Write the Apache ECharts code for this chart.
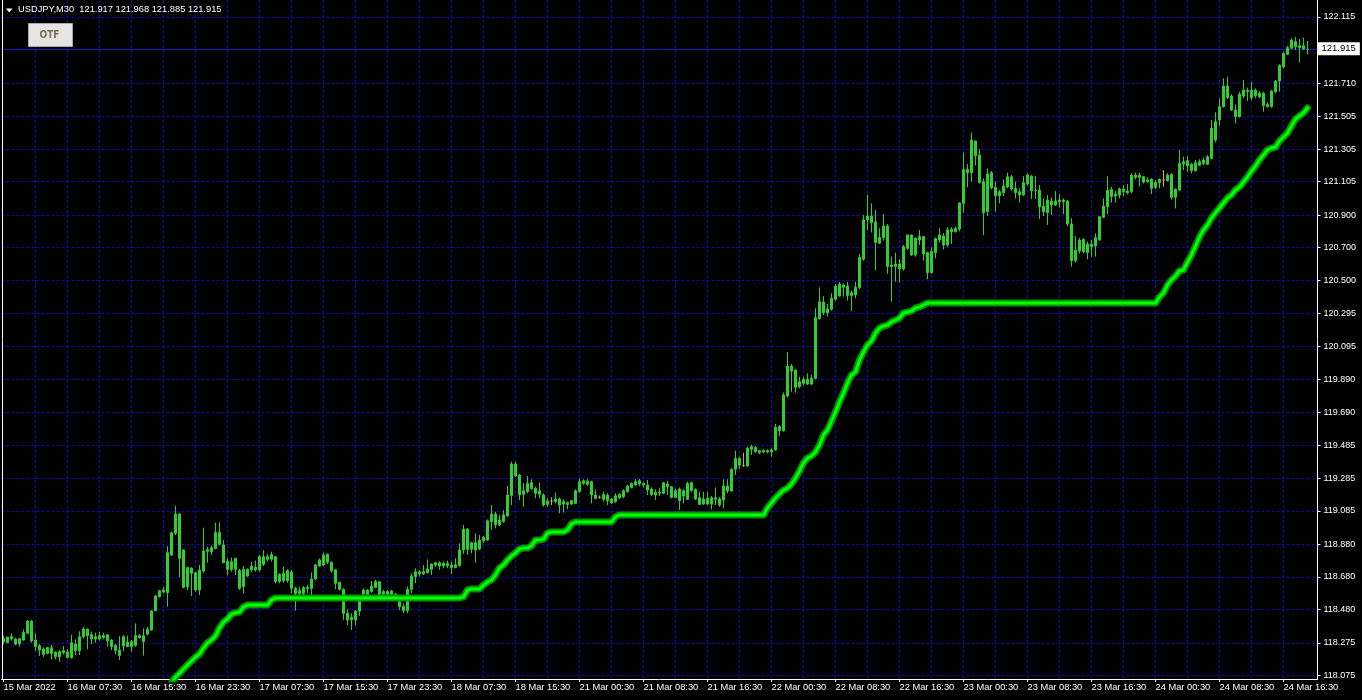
<!DOCTYPE html>
<html>
<head>
<meta charset="utf-8">
<script src="https://cdn.jsdelivr.net/npm/echarts@6/dist/echarts.min.js"></script>
<style>html,body{margin:0;padding:0;background:#000;}#c{width:1362px;height:700px;}</style>
</head>
<body>
<div id="c"></div>
<script>
// ---------- DATA ----------
const symbolText = 'USDJPY,M30';
const headerValues = ['121.917', '121.968', '121.885', '121.915'];
const buttonText = 'OTF';
const lastPrice = 121.915;

const tickLabels = ['15 Mar 2022','16 Mar 07:30','16 Mar 15:30','16 Mar 23:30','17 Mar 07:30','17 Mar 15:30',
  '17 Mar 23:30','18 Mar 07:30','18 Mar 15:30','21 Mar 00:30','21 Mar 08:30','21 Mar 16:30','22 Mar 00:30',
  '22 Mar 08:30','22 Mar 16:30','23 Mar 00:30','23 Mar 08:30','23 Mar 16:30','24 Mar 00:30','24 Mar 08:30','24 Mar 16:30'];

const yTicks = [122.115,121.915,121.710,121.505,121.305,121.105,120.900,120.700,120.500,120.295,120.095,
  119.890,119.690,119.485,119.285,119.085,118.880,118.680,118.480,118.275,118.075];

const opens = [
118.283,118.311,118.301,118.299,118.270,118.293,118.334,118.409,118.293,118.258,
118.238,118.211,118.246,118.219,118.190,118.215,118.221,118.184,118.268,118.227,
118.313,118.360,118.325,118.299,118.319,118.309,118.325,118.293,118.260,118.231,
118.256,118.280,118.252,118.260,118.319,118.283,118.330,118.354,118.473,118.559,
118.600,118.583,118.814,118.947,119.066,118.845,118.620,118.734,118.706,118.600,
118.716,118.837,118.835,118.855,118.953,118.876,118.777,118.726,118.794,118.722,
118.620,118.727,118.723,118.739,118.723,118.804,118.788,118.788,118.804,118.651,
118.702,118.657,118.710,118.610,118.579,118.579,118.616,118.610,118.667,118.747,
118.753,118.819,118.770,118.723,118.647,118.604,118.457,118.416,118.416,118.470,
118.575,118.600,118.590,118.616,118.651,118.575,118.590,118.575,118.575,118.528,
118.498,118.473,118.604,118.682,118.712,118.698,118.706,118.727,118.753,118.767,
118.747,118.763,118.753,118.737,118.749,118.845,118.974,118.849,118.890,118.851,
118.902,118.906,119.019,119.066,118.999,119.019,119.054,119.179,119.373,119.305,
119.187,119.203,119.258,119.223,119.187,119.183,119.125,119.146,119.142,119.158,
119.127,119.135,119.127,119.131,119.203,119.254,119.268,119.264,119.183,119.168,
119.156,119.182,119.135,119.142,119.166,119.172,119.203,119.229,119.244,119.270,
119.254,119.244,119.219,119.199,119.193,119.193,119.250,119.233,119.168,119.219,
119.176,119.156,119.258,119.217,119.166,119.127,119.162,119.127,119.166,119.158,
119.152,119.238,119.207,119.340,119.407,119.362,119.360,119.463,119.475,119.455,
119.446,119.455,119.446,119.459,119.602,119.577,119.790,119.974,119.949,119.847,
119.868,119.892,119.863,119.898,120.264,120.367,120.301,120.322,120.383,120.403,
120.471,120.465,120.406,120.410,120.455,120.629,120.870,120.894,120.858,120.727,
120.763,120.833,120.584,120.600,120.600,120.569,120.696,120.778,120.655,120.747,
120.768,120.669,120.547,120.669,120.747,120.772,120.716,120.798,120.798,120.814,
120.972,121.180,121.160,121.354,121.268,121.105,120.921,121.160,121.070,121.019,
121.037,121.074,121.135,121.064,121.043,121.023,121.090,121.139,121.052,121.054,
120.955,120.914,120.986,120.962,120.982,120.992,120.986,120.845,120.620,120.680,
120.751,120.669,120.722,120.710,120.747,120.886,120.951,121.058,121.017,121.023,
121.060,121.047,121.043,121.145,121.131,121.135,121.105,121.121,121.070,121.099,
121.115,121.111,121.149,121.009,121.053,121.213,121.234,121.213,121.172,121.227,
121.217,121.211,121.248,121.360,121.483,121.565,121.692,121.630,121.545,121.504,
121.630,121.667,121.620,121.667,121.626,121.647,121.579,121.565,121.657,121.722,
121.810,121.886,121.923,121.964,121.939,121.919,121.917];

const closes = [
118.303,118.276,118.313,118.268,118.301,118.340,118.409,118.287,118.252,118.231,
118.205,118.246,118.211,118.190,118.221,118.227,118.186,118.276,118.227,118.313,
118.360,118.319,118.299,118.313,118.299,118.321,118.289,118.252,118.229,118.197,
118.313,118.252,118.283,118.319,118.307,118.319,118.358,118.471,118.563,118.595,
118.587,118.829,118.951,119.066,118.794,118.616,118.737,118.702,118.600,118.722,
118.839,118.849,118.859,118.953,118.880,118.767,118.726,118.773,118.726,118.610,
118.727,118.686,118.747,118.723,118.804,118.757,118.804,118.817,118.651,118.696,
118.657,118.718,118.610,118.579,118.596,118.614,118.608,118.667,118.753,118.784,
118.815,118.770,118.718,118.641,118.604,118.457,118.416,118.432,118.471,118.530,
118.600,118.573,118.624,118.651,118.573,118.590,118.573,118.594,118.560,118.498,
118.473,118.604,118.686,118.712,118.698,118.712,118.729,118.759,118.767,118.747,
118.763,118.749,118.737,118.753,118.845,118.974,118.849,118.890,118.845,118.906,
118.923,119.025,119.064,118.999,119.029,119.060,119.183,119.373,119.299,119.183,
119.209,119.254,119.223,119.193,119.209,119.121,119.146,119.146,119.158,119.121,
119.142,119.125,119.148,119.209,119.264,119.270,119.248,119.183,119.162,119.168,
119.186,119.148,119.158,119.178,119.186,119.209,119.238,119.254,119.264,119.250,
119.244,119.213,119.186,119.182,119.199,119.258,119.233,119.168,119.209,119.148,
119.209,119.254,119.209,119.158,119.125,119.158,119.127,119.166,119.156,119.121,
119.238,119.207,119.340,119.407,119.366,119.362,119.469,119.479,119.448,119.442,
119.455,119.446,119.459,119.598,119.577,119.796,119.974,119.943,119.843,119.878,
119.892,119.863,119.898,120.270,120.367,120.301,120.324,120.389,120.465,120.477,
120.457,120.406,120.424,120.457,120.639,120.870,120.894,120.853,120.731,120.763,
120.833,120.584,120.594,120.584,120.569,120.706,120.778,120.655,120.757,120.768,
120.661,120.547,120.676,120.755,120.778,120.716,120.809,120.813,120.819,120.974,
121.180,121.160,121.360,121.264,121.099,120.914,121.152,121.068,121.019,121.043,
121.078,121.135,121.060,121.037,121.023,121.099,121.146,121.049,121.050,120.951,
120.921,120.992,120.962,120.986,120.992,120.982,120.845,120.620,120.685,120.747,
120.675,120.722,120.706,120.761,120.890,120.955,121.053,121.013,121.029,121.060,
121.043,121.037,121.145,121.131,121.145,121.101,121.115,121.064,121.099,121.119,
121.115,121.145,121.009,121.058,121.217,121.227,121.201,121.172,121.221,121.205,
121.238,121.258,121.432,121.473,121.565,121.692,121.620,121.545,121.504,121.641,
121.667,121.657,121.667,121.632,121.647,121.571,121.565,121.661,121.722,121.817,
121.892,121.927,121.974,121.933,121.927,121.939,121.915];

const lows = [
118.268,118.276,118.289,118.260,118.252,118.289,118.330,118.276,118.227,118.195,
118.190,118.205,118.174,118.174,118.160,118.205,118.180,118.180,118.201,118.201,
118.303,118.236,118.268,118.276,118.289,118.297,118.252,118.231,118.205,118.170,
118.225,118.252,118.221,118.252,118.303,118.197,118.321,118.350,118.469,118.553,
118.579,118.497,118.810,118.937,118.677,118.610,118.600,118.563,118.589,118.569,
118.706,118.767,118.814,118.849,118.872,118.767,118.690,118.712,118.692,118.600,
118.579,118.680,118.712,118.712,118.712,118.747,118.774,118.774,118.641,118.641,
118.645,118.645,118.579,118.473,118.569,118.569,118.579,118.569,118.661,118.743,
118.747,118.759,118.706,118.604,118.596,118.416,118.385,118.355,118.385,118.440,
118.569,118.569,118.583,118.610,118.569,118.569,118.569,118.569,118.550,118.477,
118.457,118.457,118.579,118.641,118.682,118.692,118.702,118.692,118.743,118.723,
118.733,118.733,118.698,118.733,118.743,118.821,118.815,118.825,118.767,118.845,
118.886,118.902,118.968,118.978,118.992,119.013,119.050,119.121,119.295,119.152,
119.111,119.193,119.213,119.162,119.162,119.111,119.111,119.121,119.131,119.070,
119.074,119.095,119.121,119.127,119.197,119.244,119.238,119.131,119.156,119.160,
119.142,119.121,119.127,119.135,119.156,119.162,119.199,119.223,119.238,119.238,
119.229,119.182,119.176,119.152,119.176,119.188,119.182,119.162,119.162,119.090,
119.131,119.152,119.203,119.152,119.121,119.121,119.121,119.094,119.121,119.110,
119.101,119.193,119.203,119.305,119.340,119.356,119.356,119.428,119.442,119.434,
119.438,119.438,119.418,119.455,119.545,119.571,119.782,119.816,119.810,119.837,
119.857,119.857,119.857,119.892,120.260,120.287,120.277,120.313,120.375,120.400,
120.400,120.375,120.311,120.389,120.444,120.620,120.809,120.792,120.563,120.723,
120.743,120.539,120.369,120.491,120.485,120.559,120.686,120.649,120.645,120.716,
120.620,120.506,120.539,120.635,120.731,120.690,120.706,120.723,120.792,120.800,
120.914,121.070,121.105,121.203,121.094,120.777,120.894,121.058,120.921,120.972,
121.017,121.064,121.049,121.002,120.976,121.017,121.080,120.998,120.998,120.876,
120.894,120.839,120.900,120.955,120.947,120.906,120.833,120.583,120.608,120.665,
120.665,120.628,120.645,120.645,120.743,120.880,120.906,120.976,120.976,121.002,
121.017,121.027,121.033,121.119,121.074,121.094,121.099,121.029,121.058,121.064,
121.074,121.105,120.996,120.941,121.049,121.176,121.166,121.156,121.166,121.200,
121.207,121.207,121.244,121.346,121.448,121.559,121.612,121.538,121.463,121.497,
121.616,121.600,121.606,121.616,121.616,121.534,121.559,121.559,121.647,121.657,
121.800,121.882,121.919,121.913,121.837,121.913,121.885];

const highs = [
118.317,118.311,118.334,118.305,118.305,118.358,118.415,118.415,118.334,118.268,
118.248,118.252,118.264,118.223,118.231,118.256,118.236,118.325,118.297,118.346,
118.375,118.364,118.344,118.338,118.342,118.338,118.330,118.297,118.268,118.317,
118.323,118.319,118.293,118.395,118.330,118.364,118.375,118.477,118.569,118.600,
118.620,118.869,118.957,119.117,119.070,118.849,118.743,118.739,118.712,118.753,
118.982,118.865,118.872,119.013,119.015,118.906,118.794,118.798,118.794,118.730,
118.747,118.731,118.772,118.780,118.815,118.845,118.821,118.835,118.808,118.702,
118.743,118.727,118.723,118.620,118.620,118.624,118.631,118.708,118.759,118.794,
118.829,118.825,118.774,118.729,118.651,118.610,118.481,118.457,118.477,118.535,
118.610,118.604,118.655,118.661,118.651,118.600,118.600,118.600,118.580,118.539,
118.518,118.620,118.702,118.733,118.723,118.753,118.788,118.763,118.774,118.774,
118.774,118.780,118.774,118.794,118.886,118.999,118.978,118.896,118.947,118.937,
118.931,119.033,119.121,119.080,119.060,119.090,119.238,119.387,119.387,119.311,
119.254,119.299,119.279,119.234,119.258,119.193,119.162,119.168,119.197,119.168,
119.156,119.142,119.152,119.217,119.285,119.279,119.279,119.270,119.217,119.180,
119.203,119.193,119.162,119.193,119.193,119.217,119.244,119.260,119.281,119.281,
119.258,119.274,119.229,119.217,119.227,119.264,119.270,119.238,119.223,119.229,
119.217,119.264,119.264,119.223,119.203,119.203,119.203,119.176,119.229,119.170,
119.279,119.279,119.346,119.455,119.418,119.442,119.479,119.489,119.483,119.459,
119.463,119.463,119.469,119.618,119.612,119.812,120.060,119.986,119.953,119.908,
119.908,119.929,119.919,120.328,120.456,120.403,120.354,120.420,120.477,120.490,
120.481,120.491,120.436,120.491,120.661,120.901,121.023,120.972,120.931,120.819,
120.907,120.845,120.645,120.669,120.629,120.716,120.778,120.778,120.763,120.809,
120.772,120.676,120.702,120.763,120.819,120.788,120.825,120.825,120.829,120.980,
121.283,121.213,121.407,121.356,121.305,121.125,121.186,121.170,121.105,121.054,
121.119,121.160,121.146,121.105,121.064,121.139,121.156,121.146,121.139,121.084,
121.002,121.023,121.009,121.047,121.029,121.002,120.992,120.880,120.771,120.760,
120.757,120.737,120.747,120.788,120.894,121.002,121.139,121.074,121.049,121.068,
121.084,121.090,121.156,121.160,121.160,121.139,121.131,121.125,121.115,121.125,
121.176,121.156,121.156,121.064,121.299,121.258,121.262,121.217,121.238,121.242,
121.252,121.268,121.483,121.530,121.616,121.739,121.749,121.641,121.579,121.657,
121.729,121.682,121.718,121.677,121.661,121.657,121.592,121.667,121.729,121.825,
121.902,121.939,121.984,121.994,121.980,121.988,121.968];

const signalLine = [
null,null,null,null,null,null,null,null,null,null,
null,null,null,null,null,null,null,null,null,null,
null,null,null,null,null,null,null,null,null,null,
null,null,null,null,null,null,null,null,null,null,
null,null,118.030,118.065,118.090,118.115,118.140,118.164,118.189,118.207,
118.244,118.275,118.293,118.318,118.367,118.403,118.422,118.452,118.459,118.465,
118.495,118.508,118.508,118.508,118.508,118.508,118.508,118.538,118.551,118.551,
118.551,118.551,118.551,118.551,118.551,118.551,118.551,118.551,118.551,118.551,
118.551,118.551,118.551,118.551,118.551,118.551,118.551,118.551,118.551,118.551,
118.551,118.551,118.551,118.551,118.551,118.551,118.551,118.551,118.551,118.551,
118.551,118.551,118.551,118.551,118.551,118.551,118.551,118.551,118.551,118.551,
118.551,118.551,118.551,118.551,118.551,118.557,118.600,118.606,118.606,118.606,
118.630,118.649,118.661,118.692,118.735,118.753,118.784,118.808,118.827,118.851,
118.857,118.857,118.870,118.906,118.906,118.912,118.949,118.956,118.956,118.956,
118.956,118.968,119.005,119.017,119.017,119.017,119.017,119.017,119.017,119.017,
119.017,119.017,119.017,119.048,119.060,119.060,119.060,119.060,119.060,119.060,
119.060,119.060,119.060,119.060,119.060,119.060,119.060,119.060,119.060,119.060,
119.060,119.060,119.060,119.060,119.060,119.060,119.060,119.060,119.060,119.060,
119.060,119.060,119.060,119.060,119.060,119.060,119.060,119.060,119.060,119.060,
119.060,119.103,119.133,119.164,119.189,119.213,119.225,119.250,119.287,119.330,
119.379,119.409,119.422,119.446,119.489,119.551,119.581,119.636,119.692,119.753,
119.808,119.870,119.919,119.937,120.011,120.060,120.103,120.127,120.176,120.207,
120.219,120.225,120.244,120.256,120.268,120.299,120.305,120.311,120.330,120.336,
120.348,120.360,120.360,120.360,120.360,120.360,120.360,120.360,120.360,120.360,
120.360,120.360,120.360,120.360,120.360,120.360,120.360,120.360,120.360,120.360,
120.360,120.360,120.360,120.360,120.360,120.360,120.360,120.360,120.360,120.360,
120.360,120.360,120.360,120.360,120.360,120.360,120.360,120.360,120.360,120.360,
120.360,120.360,120.360,120.360,120.360,120.360,120.360,120.360,120.360,120.360,
120.360,120.360,120.360,120.360,120.360,120.360,120.360,120.360,120.360,120.397,
120.422,120.471,120.502,120.526,120.557,120.563,120.612,120.655,120.710,120.765,
120.808,120.839,120.882,120.913,120.943,120.974,121.005,121.023,121.054,121.072,
121.103,121.133,121.170,121.201,121.238,121.268,121.299,121.311,121.317,121.354,
121.379,121.403,121.446,121.489,121.508,121.526,121.557];

// ---------- CHART ----------
const slotCount = 329;            // bar slots on the time axis (327 bars + right margin)
const categories = Array.from({length: slotCount}, (_, i) => String(i));
const candles = opens.map((o, i) => [o, closes[i], lows[i], highs[i]]);

const FONT = '"Liberation Sans", Arial, sans-serif';
const gridColor = '#0c0cb4';
const dashStyle = {type: [3, 2], color: gridColor, width: 1};

const chart = echarts.init(document.getElementById('c'), null, {renderer: 'canvas'});
chart.setOption({
  animation: false,
  backgroundColor: '#000000',
  grid: {left: 1.5, right: 44.5, top: 0, bottom: 21, containLabel: false},
  xAxis: {
    type: 'category', data: categories, boundaryGap: true,
    axisLine: {show: true, lineStyle: {color: '#ffffff', width: 1}},
    axisTick: {show: true, interval: (i) => i % 16 === 0, alignWithLabel: true, length: 3,
      lineStyle: {color: '#ffffff'}},
    axisLabel: {interval: (i) => i % 16 === 0,
      formatter: (v, i) => (i % 16 === 0 && tickLabels[i / 16]) ? tickLabels[i / 16] : '',
      color: '#ffffff', fontSize: 9.3, fontFamily: FONT, align: 'left', margin: 4},
    splitLine: {show: true, interval: (i) => i % 8 === 0 && i > 0 && i <= 320, alignWithLabel: true,
      lineStyle: dashStyle}
  },
  yAxis: {
    type: 'value', position: 'right', min: 118.0537, max: 122.2193,
    axisLine: {show: true, lineStyle: {color: '#ffffff', width: 1}},
    axisTick: {show: true, length: 3, customValues: yTicks, lineStyle: {color: '#ffffff'}},
    axisLabel: {customValues: yTicks.filter(v => v !== lastPrice),
      formatter: (v) => Number(v).toFixed(3), color: '#ffffff', fontSize: 9, fontFamily: FONT, margin: 6},
    splitLine: {show: true, customValues: yTicks, lineStyle: dashStyle}
  },
  series: [
    {
      type: 'candlestick', data: candles, z: 2, barWidth: 2,
      itemStyle: {color: '#32cd32', color0: '#32cd32', borderColor: '#32cd32', borderColor0: '#32cd32',
        borderColorDoji: '#e8a040', borderWidth: 1},
      markLine: {
        silent: true, symbol: ['none', 'none'], z: 1, animation: false,
        data: [{
          yAxis: lastPrice,
          lineStyle: {type: 'solid', color: '#1414c8', width: 1},
          label: {show: true, position: 'end', distance: 0, formatter: lastPrice.toFixed(3),
            backgroundColor: '#ffffff', color: '#000000', padding: [2, 4, 1, 4],
            fontSize: 9.5, fontFamily: FONT}
        }]
      }
    },
    {
      type: 'line', data: signalLine, z: 3, silent: true, symbol: 'none', showSymbol: false,
      lineStyle: {color: '#009600', width: 7, join: 'round', cap: 'round'}
    },
    {
      type: 'line', data: signalLine, z: 4, silent: true, symbol: 'none', showSymbol: false,
      lineStyle: {color: '#00ff00', width: 3, join: 'round', cap: 'round'}
    }
  ],
  graphic: [
    {type: 'line', z: 50, silent: true, shape: {x1: 2.5, y1: 0, x2: 2.5, y2: 679},
      style: {stroke: '#ffffff', lineWidth: 1}},
    {type: 'polygon', z: 100, silent: true, shape: {points: [[6, 8.5], [12.5, 8.5], [9.25, 12.5]]},
      style: {fill: '#ffffff'}},
    {type: 'text', z: 100, silent: true, x: 18, y: 4.5,
      style: {text: symbolText + '  ' + headerValues.join(' '), fill: '#ffffff',
        font: '9.3px "Liberation Sans", Arial, sans-serif'}},
    {type: 'rect', z: 100, silent: true, shape: {x: 28.5, y: 23.5, width: 44, height: 23},
      style: {fill: '#e4e4e4', stroke: '#a8a8a8', lineWidth: 1}},
    {type: 'text', z: 101, silent: true, x: 49.5, y: 35.5,
      style: {text: buttonText, fill: '#7a6e55', align: 'center', verticalAlign: 'middle',
        font: 'bold 10px "DejaVu Sans Condensed", "Liberation Sans Narrow", "Liberation Sans", sans-serif'}}
  ]
});
</script>
</body>
</html>
